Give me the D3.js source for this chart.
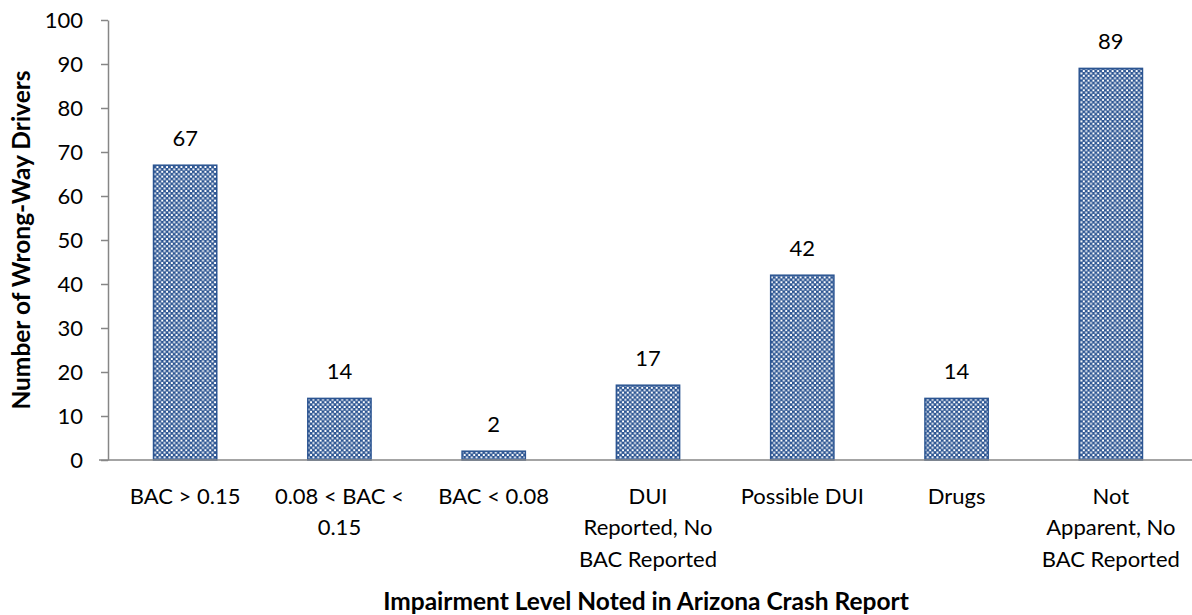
<!DOCTYPE html>
<html><head><meta charset="utf-8">
<script src="https://cdn.jsdelivr.net/npm/d3@7"></script>
<style>
body{margin:0;background:#fff;}
text{font-family:Lato,"Open Sans",sans-serif;fill:#000;}
</style></head>
<body>
<svg id="c" width="1192" height="615"></svg>
<script>
(function(){
const categories = [
  ["BAC > 0.15"],
  ["0.08 < BAC <", "0.15"],
  ["BAC < 0.08"],
  ["DUI", "Reported, No", "BAC Reported"],
  ["Possible DUI"],
  ["Drugs"],
  ["Not", "Apparent, No", "BAC Reported"]
];
const values = [67, 14, 2, 17, 42, 14, 89];
const yTicks = [0,10,20,30,40,50,60,70,80,90,100];
const xTitle = "Impairment Level Noted in Arizona Crash Report";
const yTitle = "Number of Wrong-Way Drivers";

const svg = d3.select("#c");
const mLeft = 108, mRight = 1188, mTop = 20, mBottom = 460;
const x = d3.scaleBand().domain(d3.range(values.length)).range([mLeft, mRight]).paddingInner(0.59).paddingOuter(0.295);
const y = d3.scaleLinear().domain([0,100]).range([mBottom, mTop]);

const defs = svg.append("defs");
const pat = defs.append("pattern").attr("id","chk").attr("patternUnits","userSpaceOnUse")
  .attr("width",4.8).attr("height",4.8);
pat.append("rect").attr("width",4.8).attr("height",4.8).attr("fill","#2c5592");
pat.append("rect").attr("x",0.4).attr("y",0.4).attr("width",2).attr("height",2).attr("fill","#ffffff");
pat.append("rect").attr("x",2.8).attr("y",2.8).attr("width",2).attr("height",2).attr("fill","#ffffff");

const yAxis = svg.append("g").attr("transform",`translate(${mLeft},0)`)
  .call(d3.axisLeft(y).tickValues(yTicks).tickSize(7).tickPadding(18).tickSizeOuter(0));
yAxis.select(".domain").attr("stroke","#868686").attr("stroke-width",1.5);
yAxis.selectAll(".tick line").attr("stroke","#868686").attr("stroke-width",1.5);
yAxis.selectAll(".tick text").attr("font-size",22).attr("font-family","Lato").attr("fill","#000");

svg.selectAll("rect.bar").data(values).enter().append("rect").attr("class","bar")
  .attr("x",(d,i)=>x(i)).attr("width",x.bandwidth())
  .attr("y",d=>y(d)).attr("height",d=>mBottom-y(d))
  .attr("fill","url(#chk)").attr("stroke","#2c5592").attr("stroke-width",1.5);

svg.append("line").attr("x1",99).attr("x2",1192).attr("y1",mBottom).attr("y2",mBottom)
  .attr("stroke","#868686").attr("stroke-width",1.5);

svg.selectAll("text.val").data(values).enter().append("text").attr("class","val")
  .attr("x",(d,i)=>x(i)+x.bandwidth()/2).attr("y",d=>y(d)-28)
  .attr("text-anchor","middle").attr("dominant-baseline","central")
  .attr("font-size",22).text(d=>d);

categories.forEach((lines,i)=>{
  const cx = x(i)+x.bandwidth()/2;
  lines.forEach((t,j)=>{
    svg.append("text").attr("x",cx).attr("y",495+j*31.5)
      .attr("text-anchor","middle").attr("dominant-baseline","central")
      .attr("font-size",22).text(t);
  });
});

svg.append("text").attr("x",646).attr("y",600).attr("text-anchor","middle")
  .attr("dominant-baseline","central").attr("font-size",24.5).attr("font-weight","bold").text(xTitle);
svg.append("text").attr("transform","translate(20,240) rotate(-90)").attr("text-anchor","middle")
  .attr("dominant-baseline","central").attr("font-size",24.5).attr("font-weight","bold").text(yTitle);
})();
</script>
</body></html>
